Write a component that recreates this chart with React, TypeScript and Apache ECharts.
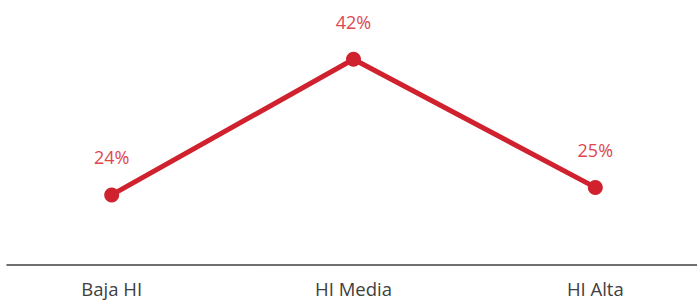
import React, { useEffect, useRef } from "react";
import * as echarts from "echarts";

const categories = ["Baja HI", "HI Media", "HI Alta"];
const values = [24, 42, 25];

export default function App() {
  const ref = useRef<HTMLDivElement>(null);
  useEffect(() => {
    if (!ref.current) return;
    const chart = echarts.init(ref.current, null, { renderer: "svg" });
    const font = "'Open Sans', 'Segoe UI', sans-serif";
    chart.setOption({
      animation: false,
      grid: { left: 7, right: 0, top: 36.6, bottom: 36.7 },
      xAxis: {
        type: "value",
        min: -0.433,
        max: 2.4206,
        splitLine: { show: false },
        axisLine: { show: true, lineStyle: { color: "#404040", width: 1.5 } },
        axisTick: { show: false },
        axisLabel: {
          customValues: categories.map((_, i) => i),
          formatter: (v: number) => categories[Math.round(v)] ?? "",
          color: "#404040",
          fontSize: 18.5,
          fontFamily: font,
          margin: 15,
        },
      },
      yAxis: {
        type: "value",
        min: 14.8,
        max: 45,
        show: false,
        splitLine: { show: false },
      },
      series: [
        {
          type: "line",
          data: values.map((v, i) => [i, v]),
          lineStyle: { color: "#d0212e", width: 5 },
          itemStyle: { color: "#d0212e" },
          symbol: "circle",
          symbolSize: 15,
          label: {
            show: true,
            position: "top",
            distance: 21,
            formatter: (p: any) => p.value[1] + "%",
            color: "#e0464f",
            fontSize: 18,
            fontFamily: font,
          },
        },
      ],
    });
    return () => chart.dispose();
  }, []);
  return (
    <div
      ref={ref}
      style={{ position: "fixed", left: 0, top: 0, width: 697, height: 301, background: "#fff" }}
    />
  );
}
